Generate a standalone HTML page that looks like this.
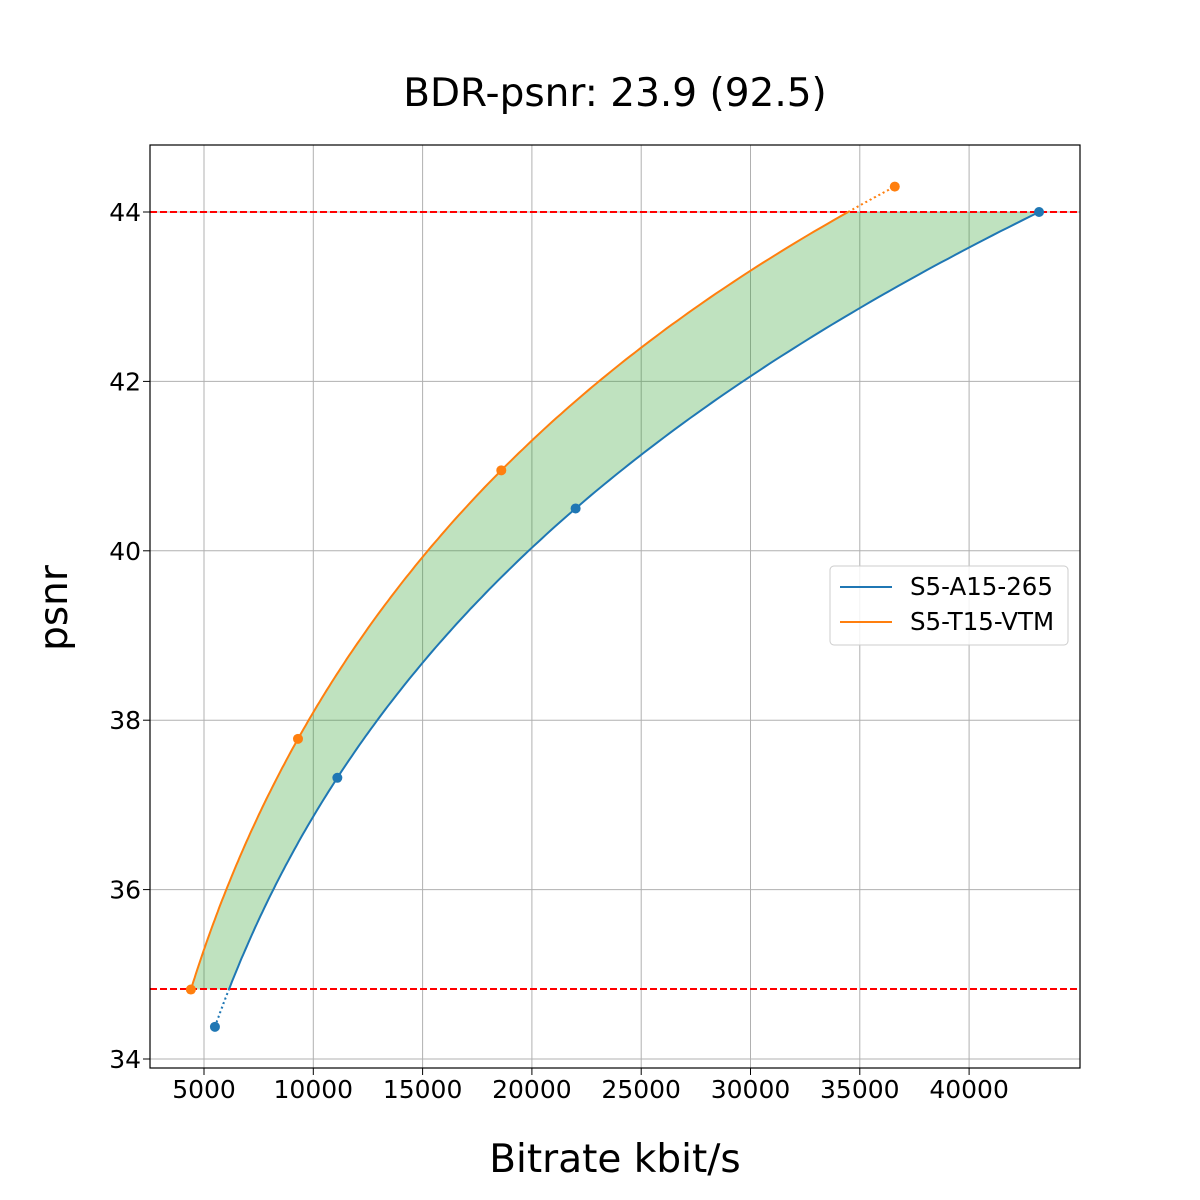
<!DOCTYPE html>
<html><head><meta charset="utf-8"><style>
body{margin:0;background:#fff;}
svg{display:block;font-family:"DejaVu Sans","Liberation Sans",sans-serif;}
</style></head><body>
<svg id="s" width="1200" height="1200" viewBox="0 0 1200 1200">
<rect width="1200" height="1200" fill="#fff"/>
<g id="grid" stroke="#b0b0b0" stroke-width="1"></g>
<g id="fill"></g>
<line x1="150" x2="1080" y1="212" y2="212" stroke="#ff0000" stroke-width="2" stroke-dasharray="7,3"/>
<line x1="150" x2="1080" y1="989" y2="989" stroke="#ff0000" stroke-width="2" stroke-dasharray="7,3"/>
<g id="curves"></g>
<rect x="150" y="145" width="930" height="923" fill="none" stroke="#000" stroke-width="1.2"/>
<g id="ticks" font-size="25" fill="#000"></g>
<text x="615" y="106" font-size="39" text-anchor="middle">BDR-psnr: 23.9 (92.5)</text>
<text x="615" y="1172" font-size="39" text-anchor="middle">Bitrate kbit/s</text>
<text x="0" y="0" font-size="39" text-anchor="middle" transform="translate(67,608) rotate(-90)">psnr</text>
<rect x="830" y="566" width="238" height="79" rx="4" fill="#fff" fill-opacity="0.85" stroke="#ccc"/>
<line x1="840" x2="892" y1="587" y2="587" stroke="#1f77b4" stroke-width="2"/>
<line x1="840" x2="892" y1="622" y2="622" stroke="#ff7f0e" stroke-width="2"/>
<text x="910" y="595" font-size="24.5">S5-A15-265</text>
<text x="910" y="630" font-size="24.5">S5-T15-VTM</text>
</svg>
<script>
const X=v=>204+(v-5000)*109.3/5000, Y=v=>212+(44-v)*84.7;
const ns="http://www.w3.org/2000/svg";
function el(p,t,a){const e=document.createElementNS(ns,t);for(const k in a)e.setAttribute(k,a[k]);document.getElementById(p).appendChild(e);return e;}
for(let v=5000;v<=40000;v+=5000){const x=X(v);el("grid","line",{x1:x,x2:x,y1:145,y2:1068});
 const t=el("ticks","text",{x:x,y:1098,"text-anchor":"middle"});t.textContent=v;
 el("ticks","line",{x1:x,x2:x,y1:1068,y2:1075,stroke:"#000"});}
for(let v=34;v<=44;v+=2){const y=Y(v);el("grid","line",{x1:150,x2:1080,y1:y,y2:y});
 const t=el("ticks","text",{x:141,y:y+9,"text-anchor":"end"});t.textContent=v;
 el("ticks","line",{x1:143,x2:150,y1:y,y2:y,stroke:"#000"});}
const B=[[5500,34.38],[11100,37.32],[22000,40.5],[43200,44.0]];
const O=[[4400,34.82],[9300,37.78],[18600,40.95],[36600,44.3]];
function f(P,q){let s=0;for(let i=0;i<4;i++){let l=1;for(let j=0;j<4;j++)if(j!=i)l*=(q-P[j][1])/(P[i][1]-P[j][1]);s+=l*Math.log(P[i][0]);}return Math.exp(s);}
function pts(P,a,b){let r=[];for(let i=0;i<=200;i++){const q=a+(b-a)*i/200;r.push([X(f(P,q)),Y(q)]);}return r;}
const str=r=>r.map(p=>p[0].toFixed(1)+","+p[1].toFixed(1)).join(" ");
const ob=pts(O,34.82,44),bb=pts(B,34.82,44);
el("fill","polygon",{points:str(ob.concat(bb.reverse())),fill:"#2ca02c","fill-opacity":0.3});
el("curves","polyline",{points:str(pts(B,34.38,34.82)),fill:"none",stroke:"#1f77b4","stroke-width":2,"stroke-dasharray":"2,3"});
el("curves","polyline",{points:str(pts(O,44,44.3)),fill:"none",stroke:"#ff7f0e","stroke-width":2,"stroke-dasharray":"2,3"});
el("curves","polyline",{points:str(pts(B,34.82,44)),fill:"none",stroke:"#1f77b4","stroke-width":2});
el("curves","polyline",{points:str(pts(O,34.82,44)),fill:"none",stroke:"#ff7f0e","stroke-width":2});
B.forEach(p=>el("curves","circle",{cx:X(p[0]),cy:Y(p[1]),r:5,fill:"#1f77b4"}));
O.forEach(p=>el("curves","circle",{cx:X(p[0]),cy:Y(p[1]),r:5,fill:"#ff7f0e"}));
</script>
</body></html>
